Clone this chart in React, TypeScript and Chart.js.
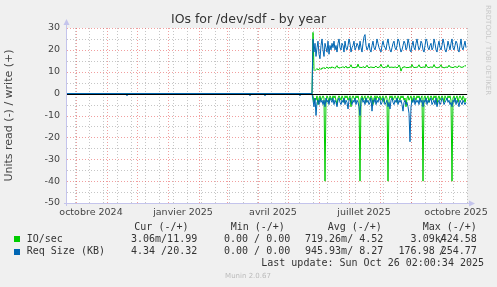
import React, { useEffect, useRef } from "react";
import { Chart, registerables } from "chart.js";
Chart.register(...registerables);

// ---------- data ----------
const START_DATE = "2024-09-22";
const SPAN_DAYS = 400;
const Y_MIN = -50;
const Y_MAX = 30;
const Y_STEP = 10;

const xLabels = ["octobre 2024", "janvier 2025", "avril 2025", "juillet 2025", "octobre 2025"];
const xLabelMonths = ["2024-10-01", "2025-01-01", "2025-04-01", "2025-07-01", "2025-10-01"];

// quiet period (day offsets from START_DATE)
const earlyDays = [0, 59, 60, 61, 182, 183, 184, 197, 198, 199, 232, 233, 234, 245];
const earlyIoRead = [0, 0, 0, 0, 0, 0, 0, 0, 0, 0, 0, 0, 0, 0];
const earlyIoWrite = [0, 0, 0, 0, 0, 0, 0, 0, 0, 0, 0, 0, 0, 0];
const earlyReqRead = [0, 0, -1, 0, 0, -1, 0, 0, -1, 0, 0, -1, 0, 0];
const earlyReqWrite = [0, 0, 0, 0, 0, 0, 0, 0, 0, 0, 0, 0, 0, 0];

// active period, one value per day from activeStartDay
const activeStartDay = 246;

const reqWrite = [
  25, 19, 23, 17, 21, 24, 18, 16, 22, 25,
  20, 17, 23, 21, 19, 24, 18, 22, 20, 23,
  21, 24, 20, 22, 19, 23, 25, 21, 20, 23,
  22, 19, 24, 21, 20, 22, 25, 23, 19, 21,
  22, 24, 20, 21, 23, 22, 20, 24, 21, 19,
  23, 26, 27, 22, 20, 21, 23, 20, 19, 22,
  24, 21, 20, 22, 25, 23, 21, 20, 19, 22,
  24, 22, 21, 20, 23, 25, 22, 20, 19, 21,
  23, 24, 21, 20, 22, 25, 24, 21, 19, 20,
  22, 24, 23, 20, 21, 25, 23, 20, 19, 22,
  24, 21, 20, 23, 25, 22, 20, 21, 24, 23,
  20, 19, 22, 25, 24, 21, 20, 22, 23, 20,
  21, 25, 23, 20, 19, 22, 24, 21, 20, 22,
  25, 23, 20, 19, 21, 24, 22, 20, 23, 25,
  21, 20, 22, 24, 23, 20, 19, 22, 25, 21,
  20, 22, 24, 21,
];

const ioWrite = [
  28, 11, 10.5, 11, 11.5, 10.8, 11.2, 11.5, 11, 11.8,
  11.5, 12, 11.3, 11.8, 12.2, 11.5, 11.8, 12, 11.6, 12.3,
  11.8, 12, 11.5, 12.2, 12.8, 11.8, 12, 11.6, 12.1, 11.9,
  12.4, 11.8, 12, 12.6, 11.7, 12, 11.8, 12.2, 13.2, 12,
  11.8, 12.1, 11.7, 12.3, 12, 13.5, 12.2, 11.9, 12.1, 11.8,
  12.4, 12, 11.9, 12.2, 13, 12.1, 11.8, 12, 12.3, 11.9,
  12.1, 11.8, 12.2, 12.6, 12, 11.9, 12.1, 12.4, 13.4, 12.2,
  12, 11.8, 12.1, 12.3, 12, 13.2, 12.1, 11.9, 12.2, 12,
  12.1, 11.9, 12.3, 12, 11.8, 12.1, 13.1, 12.2, 10.3, 11.5,
  12.2, 12, 12.4, 11.8, 12, 11.9, 12, 12.2, 12.1, 13.3,
  12.2, 12, 11.9, 12.1, 12, 12.3, 13.2, 12.1, 12, 11.9,
  12.2, 12.1, 12, 13.4, 12.3, 12, 11.9, 12.1, 12.2, 12,
  12.1, 13.3, 12.2, 12, 11.8, 11.9, 12.1, 12.3, 13.2, 12.1,
  12, 11.8, 11.9, 12.2, 12, 12.1, 13, 12.2, 12.1, 12,
  11.9, 12.1, 12.4, 12.2, 12, 12.1, 12.8, 12.3, 12.1, 12,
  12.2, 12.4, 12.9, 12.5,
];

const ioRead = [
  -1, -4, -2, -3, -1, -5, -2, -1, -3, -2,
  -1, -2, -40, -3, -1, -2, -4, -1, -2, -3,
  -1, -2, -1, -3, -5, -2, -1, -2, -3, -1,
  -2, -4, -1, -2, -1, -3, -2, -1, -6, -2,
  -1, -2, -3, -1, -2, -1, -3, -40, -2, -1,
  -3, -2, -1, -4, -2, -1, -2, -3, -1, -2,
  -5, -2, -1, -3, -1, -2, -2, -1, -3, -2,
  -1, -4, -2, -1, -2, -40, -3, -1, -2, -1,
  -3, -2, -1, -2, -4, -1, -2, -3, -1, -2,
  -1, -3, -2, -6, -2, -1, -3, -2, -1, -4,
  -2, -1, -2, -3, -1, -2, -1, -3, -2, -1,
  -40, -2, -1, -3, -2, -1, -4, -2, -1, -2,
  -3, -1, -2, -1, -5, -2, -1, -3, -2, -1,
  -2, -4, -1, -2, -3, -1, -2, -1, -3, -40,
  -2, -1, -3, -2, -1, -4, -2, -1, -2, -3,
  -1, -2, -4, -2,
];

const reqRead = [
  -3, -6, -2, -10, -4, -3, -5, -2, -4, -3,
  -5, -3, -6, -2, -4, -3, -5, -2, -3, -4,
  -2, -5, -3, -4, -6, -3, -2, -4, -5, -3,
  -4, -2, -5, -3, -4, -7, -3, -2, -4, -5,
  -3, -4, -2, -5, -3, -4, -6, -10, -3, -2,
  -4, -3, -5, -2, -4, -3, -5, -4, -2, -8,
  -3, -4, -2, -5, -3, -4, -2, -3, -5, -4,
  -2, -3, -5, -4, -3, -6, -4, -7, -3, -2,
  -4, -5, -3, -4, -2, -5, -3, -4, -3, -5,
  -8, -4, -3, -5, -4, -6, -9, -22, -6, -3,
  -4, -2, -5, -3, -4, -3, -5, -2, -4, -3,
  -6, -3, -4, -2, -5, -3, -4, -3, -2, -5,
  -4, -3, -5, -2, -6, -4, -3, -5, -4, -2,
  -3, -5, -4, -3, -2, -4, -3, -5, -4, -6,
  -3, -4, -2, -5, -3, -4, -6, -3, -4, -5,
  -3, -4, -5, -4,
];

// legend texts
const title = "IOs for /dev/sdf - by year";
const yTitle = "Units read (-) / write (+)";
const legendHeaders = ["Cur (-/+)", "Min (-/+)", "Avg (-/+)", "Max (-/+)"];
const legendNames = ["IO/sec", "Req Size (KB)"];
const legendColors = ["#00cc00", "#0066b3"];
const legendCur = ["3.06m/11.99", "4.34 /20.32"];
const legendMin = ["0.00 / 0.00", "0.00 / 0.00"];
const legendAvg = ["719.26m/ 4.52", "945.93m/ 8.27"];
const legendMaxRead = ["3.09k", "176.98 "];
const legendMaxWrite = ["424.58", "254.77"];
const lastUpdate = "Last update: Sun Oct 26 02:00:34 2025";
const footer = "Munin 2.0.67";
const sideText = "RRDTOOL / TOBI OETIKER";

// ---------- helpers ----------
const DAY_MS = 86400000;
const dayOf = (s: string) => (Date.parse(s + "T00:00:00Z") - Date.parse(START_DATE + "T00:00:00Z")) / DAY_MS;

const toPoints = (early: number[], active: number[]) => [
  ...earlyDays.map((d, i) => ({ x: d, y: early[i] })),
  ...active.map((v, i) => ({ x: activeStartDay + i, y: v })),
];

const monthStartDays = (() => {
  const out: number[] = [];
  const s = new Date(START_DATE + "T00:00:00Z");
  let y = s.getUTCFullYear();
  let m = s.getUTCMonth() + 1;
  for (;;) {
    const d = (Date.UTC(y, m, 1) - s.getTime()) / DAY_MS;
    if (d > SPAN_DAYS) break;
    out.push(d);
    m++;
    if (m > 11) { m = 0; y++; }
  }
  return out;
})();

const minorDays = (() => {
  const out: number[] = [];
  for (let d = 8; d <= SPAN_DAYS; d += 14) out.push(d);
  return out;
})();

const labelDays = xLabelMonths.map((m) => dayOf(m) + 15);

const TICK_FONT = { family: "'DejaVu Sans'", size: 9.5 };

const muninPlugin = {
  id: "munin",
  beforeDraw(chart: any) {
    const { ctx, chartArea: a } = chart;
    ctx.save();
    ctx.fillStyle = "#f0f0f0";
    ctx.fillRect(0, 0, chart.width, chart.height);
    ctx.fillStyle = "#ffffff";
    ctx.fillRect(a.left, a.top, a.right - a.left, a.bottom - a.top);
    ctx.restore();
  },
  beforeDatasetsDraw(chart: any) {
    const { ctx, chartArea: a, scales } = chart;
    const xs = scales.x, ys = scales.y;
    ctx.save();
    ctx.lineWidth = 1;
    ctx.setLineDash([1, 2]);
    const vline = (px: number, color: string) => {
      const x = Math.round(px) + 0.5;
      ctx.strokeStyle = color;
      ctx.beginPath();
      ctx.moveTo(x, a.top);
      ctx.lineTo(x, a.bottom);
      ctx.stroke();
    };
    const hline = (py: number, color: string) => {
      const y = Math.round(py) + 0.5;
      ctx.strokeStyle = color;
      ctx.beginPath();
      ctx.moveTo(a.left, y);
      ctx.lineTo(a.right, y);
      ctx.stroke();
    };
    const minorC = "rgba(160,160,160,0.6)";
    const majorC = "rgba(230,80,80,0.55)";
    minorDays.forEach((d) => vline(xs.getPixelForValue(d), minorC));
    for (let v = Y_MIN + 5; v < Y_MAX; v += 10) hline(ys.getPixelForValue(v), minorC);
    monthStartDays.forEach((d) => vline(xs.getPixelForValue(d), majorC));
    for (let v = Y_MIN + Y_STEP; v <= Y_MAX; v += Y_STEP) if (v !== 0) hline(ys.getPixelForValue(v), majorC);
    ctx.restore();
  },
  afterDatasetsDraw(chart: any) {
    const { ctx, chartArea: a, scales } = chart;
    const ys = scales.y;
    ctx.save();
    // zero rule
    const y0 = Math.round(ys.getPixelForValue(0)) + 0.5;
    ctx.strokeStyle = "#000";
    ctx.lineWidth = 1;
    ctx.beginPath();
    ctx.moveTo(a.left, y0);
    ctx.lineTo(a.right, y0);
    ctx.stroke();
    // axes
    const ax = "#c4c4ec";
    ctx.strokeStyle = ax;
    ctx.fillStyle = ax;
    const lx = Math.round(a.left) - 0.5;
    const by = Math.round(a.bottom) + 0.5;
    ctx.beginPath();
    ctx.moveTo(lx, a.bottom + 3);
    ctx.lineTo(lx, a.top - 4);
    ctx.moveTo(a.left - 3, by);
    ctx.lineTo(a.right + 3, by);
    ctx.stroke();
    ctx.beginPath();
    ctx.moveTo(lx - 3, a.top - 3);
    ctx.lineTo(lx, a.top - 9);
    ctx.lineTo(lx + 3, a.top - 3);
    ctx.closePath();
    ctx.fill();
    ctx.beginPath();
    ctx.moveTo(a.right + 2, by - 3);
    ctx.lineTo(a.right + 8, by);
    ctx.lineTo(a.right + 2, by + 3);
    ctx.closePath();
    ctx.fill();
    ctx.restore();
  },
  afterDraw(chart: any) {
    const { ctx } = chart;
    ctx.save();
    // title
    ctx.fillStyle = "#333";
    ctx.font = "12.5px 'DejaVu Sans'";
    ctx.textAlign = "center";
    ctx.textBaseline = "alphabetic";
    ctx.fillText(title, 248.5, 23);
    // side text
    ctx.save();
    ctx.translate(485, 5);
    ctx.rotate(Math.PI / 2);
    ctx.fillStyle = "#c8c8c8";
    ctx.font = "7px 'DejaVu Sans'";
    ctx.textAlign = "left";
    ctx.textBaseline = "middle";
    ctx.fillText(sideText, 0, -3);
    ctx.restore();
    // legend
    ctx.font = "10px 'DejaVu Sans Mono'";
    ctx.textAlign = "left";
    ctx.textBaseline = "middle";
    ctx.fillStyle = "#333";
    const hx = [134.3, 230.7, 327.7, 422.7];
    legendHeaders.forEach((h, i) => ctx.fillText(h, hx[i], 227.7));
    const rowY = [239.3, 251.7];
    legendNames.forEach((n, r) => {
      const y = rowY[r];
      ctx.fillStyle = legendColors[r];
      ctx.fillRect(14, Math.round(y) - 3, 6, 6);
      ctx.fillStyle = "#333";
      ctx.fillText(n, 26.7, y);
      ctx.fillText(legendCur[r], 131, y);
      ctx.fillText(legendMin[r], 224, y);
      ctx.fillText(legendAvg[r], 305, y);
      const mr = legendMaxRead[r];
      ctx.fillText(mr, 440.7 - mr.length * 6.02 + (mr.endsWith(" ") ? 0 : 0), y);
      ctx.fillText("/", 439, y);
      ctx.fillText(legendMaxWrite[r], 440.7, y);
    });
    ctx.textAlign = "right";
    ctx.fillText(lastUpdate, 484, 263.7);
    ctx.textAlign = "center";
    ctx.fillStyle = "#bbb";
    ctx.font = "7px 'DejaVu Sans'";
    ctx.fillText(footer, 248, 276);
    ctx.restore();
  },
};

export default function App() {
  const ref = useRef<HTMLCanvasElement | null>(null);
  useEffect(() => {
    if (!ref.current) return;
    const green = "#00cc00";
    const blue = "#0066b3";
    const ds = (label: string, data: any[], color: string, order: number) => ({
      label,
      data,
      borderColor: color,
      backgroundColor: color,
      borderWidth: 1,
      pointRadius: 0,
      tension: 0,
      fill: false,
      order,
    });
    const chart = new Chart(ref.current, {
      type: "line",
      data: {
        datasets: [
          ds("IO/sec read", toPoints(earlyIoRead, ioRead), green, 1),
          ds("IO/sec write", toPoints(earlyIoWrite, ioWrite), green, 1),
          ds("Req Size read", toPoints(earlyReqRead, reqRead), blue, 0),
          ds("Req Size write", toPoints(earlyReqWrite, reqWrite), blue, 0),
        ],
      },
      options: {
        animation: false,
        responsive: false,
        maintainAspectRatio: false,
        devicePixelRatio: 1,
        layout: { padding: { left: 0, top: 28, right: 30, bottom: 0 } },
        plugins: {
          legend: { display: false },
          tooltip: { enabled: false },
          title: { display: false },
        },
        scales: {
          x: {
            type: "linear",
            min: 0,
            max: SPAN_DAYS,
            grid: { display: false, drawTicks: false, tickLength: 0 },
            border: { display: false },
            afterBuildTicks: (s: any) => {
              s.ticks = labelDays.map((v) => ({ value: v }));
            },
            afterFit: (s: any) => {
              s.height = 84;
            },
            ticks: {
              autoSkip: false,
              maxRotation: 0,
              minRotation: 0,
              padding: 4,
              color: "#444",
              font: TICK_FONT,
              callback: (_v: any, i: number) => xLabels[i],
            },
          },
          y: {
            min: Y_MIN,
            max: Y_MAX,
            grid: { display: false, drawTicks: false, tickLength: 0 },
            border: { display: false },
            afterFit: (s: any) => {
              s.width = 67;
            },
            ticks: { stepSize: Y_STEP, padding: 7, color: "#444", font: TICK_FONT },
            title: {
              display: true,
              text: yTitle,
              color: "#444",
              font: { family: "'DejaVu Sans'", size: 11 },
              padding: { top: 3, bottom: 0 },
            },
          },
        },
      } as any,
      plugins: [muninPlugin],
    });
    return () => chart.destroy();
  }, []);
  return (
    <div style={{ position: "fixed", left: 0, top: 0, width: 497, height: 287 }}>
      <canvas ref={ref} width={497} height={287} style={{ display: "block", width: 497, height: 287 }} />
    </div>
  );
}
